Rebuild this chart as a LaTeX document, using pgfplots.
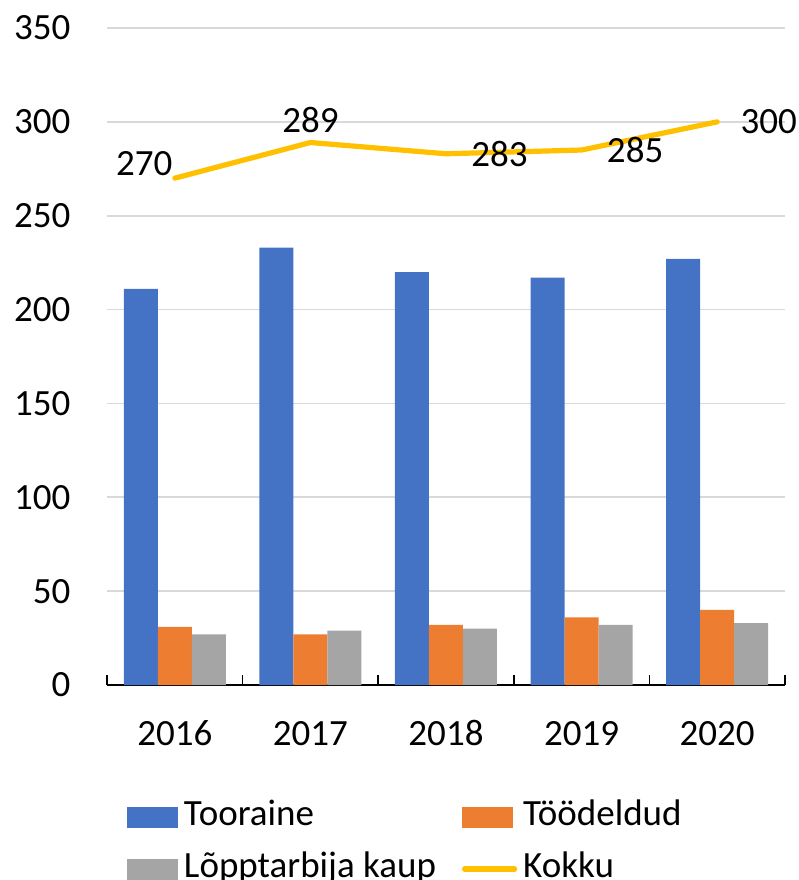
\documentclass[border=0pt]{standalone}
\usepackage{pgfplots}
\pgfplotsset{compat=1.18}
\usepackage{fontspec}
\setmainfont{Carlito}
\definecolor{cblue}{HTML}{4472C4}
\definecolor{corange}{HTML}{ED7D31}
\definecolor{cgray}{HTML}{A5A5A5}
\definecolor{cgold}{HTML}{FFC000}
\definecolor{gridgray}{HTML}{D9D9D9}
\newcommand{\lbl}{\fontsize{18.5}{22}\selectfont}
\begin{document}
\lbl
\begin{tikzpicture}
\begin{axis}[
    name=ax,
    scale only axis,
    width=339pt, height=328.5pt,
    xmin=-0.5, xmax=4.5, ymin=0, ymax=350,
    xtick={0,...,4},
    xticklabels={2016,2017,2018,2019,2020},
    minor xtick={-0.5,0.5,...,4.5},
    ytick={0,50,...,350},
    axis x line*=bottom,
    axis y line*=left,
    y axis line style={draw=none},
    x axis line style={black, line width=1pt},
    ytick style={draw=none},
    major x tick style={draw=none},
    minor x tick style={black, line width=0.8pt},
    minor tick length=5pt,
    tick align=inside,
    ymajorgrids,
    y grid style={draw=gridgray, line width=0.9pt},
    tick label style={font=\lbl},
    /pgf/number format/assume math mode=true,
    yticklabel style={xshift=-12pt},
    xticklabel style={text height=13pt, text depth=0pt, yshift=-11pt},
    legend columns=2,
    legend cell align=left,
    legend style={at={(0,0)}, anchor=north west, xshift=10pt, yshift=-58pt,
        draw=none, fill=none, inner sep=0pt, outer sep=0pt, row sep=10pt, font=\lbl,
        nodes={inner sep=0pt, text height=12pt, text depth=4pt},
        /tikz/every odd column/.style={column sep=3pt},
        /tikz/every even column/.style={column sep=13pt}},
]
\addplot[ybar, bar width=17pt, bar shift=-17pt, fill=cblue, draw=none,
    legend image code/.code={\fill[cblue] (0pt,-5.25pt) rectangle (25.5pt,5.25pt);}]
    coordinates {(0,211) (1,233) (2,220) (3,217) (4,227)};
\addlegendentry{Tooraine}
\addplot[ybar, bar width=17pt, bar shift=0pt, fill=corange, draw=none,
    legend image code/.code={\fill[corange] (0pt,-5.25pt) rectangle (25.5pt,5.25pt);}]
    coordinates {(0,31) (1,27) (2,32) (3,36) (4,40)};
\addlegendentry{Töödeldud}
\addplot[ybar, bar width=17pt, bar shift=17pt, fill=cgray, draw=none,
    legend image code/.code={\fill[cgray] (0pt,-5.25pt) rectangle (25.5pt,5.25pt);}]
    coordinates {(0,27) (1,29) (2,30) (3,32) (4,33)};
\addlegendentry{Lõpptarbija kaup}
\addplot[cgold, line width=2.6pt, line cap=round, line join=round, mark=none,
    legend image code/.code={\draw[cgold, line width=2.6pt, line cap=round] (1.3pt,0pt) -- (26.3pt,0pt);}]
    coordinates {(0,270) (1,289) (2,283) (3,285) (4,300)};
\addlegendentry{Kokku}
% data labels of Kokku
\addplot[draw=none, mark=none, forget plot, nodes near coords,
    nodes near coords style={font=\lbl, inner sep=0pt, anchor=south east, xshift=-1pt, yshift=1pt}]
    coordinates {(0,270)};
\addplot[draw=none, mark=none, forget plot, nodes near coords,
    nodes near coords style={font=\lbl, inner sep=0pt, anchor=south, yshift=4.5pt}]
    coordinates {(1,289)};
\addplot[draw=none, mark=none, forget plot, nodes near coords,
    nodes near coords style={font=\lbl, inner sep=0pt, anchor=west, xshift=12.5pt}]
    coordinates {(2,283) (3,285)};
\addplot[draw=none, mark=none, forget plot, nodes near coords,
    nodes near coords style={font=\lbl, inner sep=0pt, anchor=west, xshift=11.5pt}]
    coordinates {(4,300)};
\end{axis}
\pgfresetboundingbox
\path[use as bounding box] ([xshift=-53.5pt,yshift=-97.5pt]ax.south west)
    rectangle ([xshift=346pt,yshift=342.5pt]ax.south west);
\end{tikzpicture}
\end{document}
